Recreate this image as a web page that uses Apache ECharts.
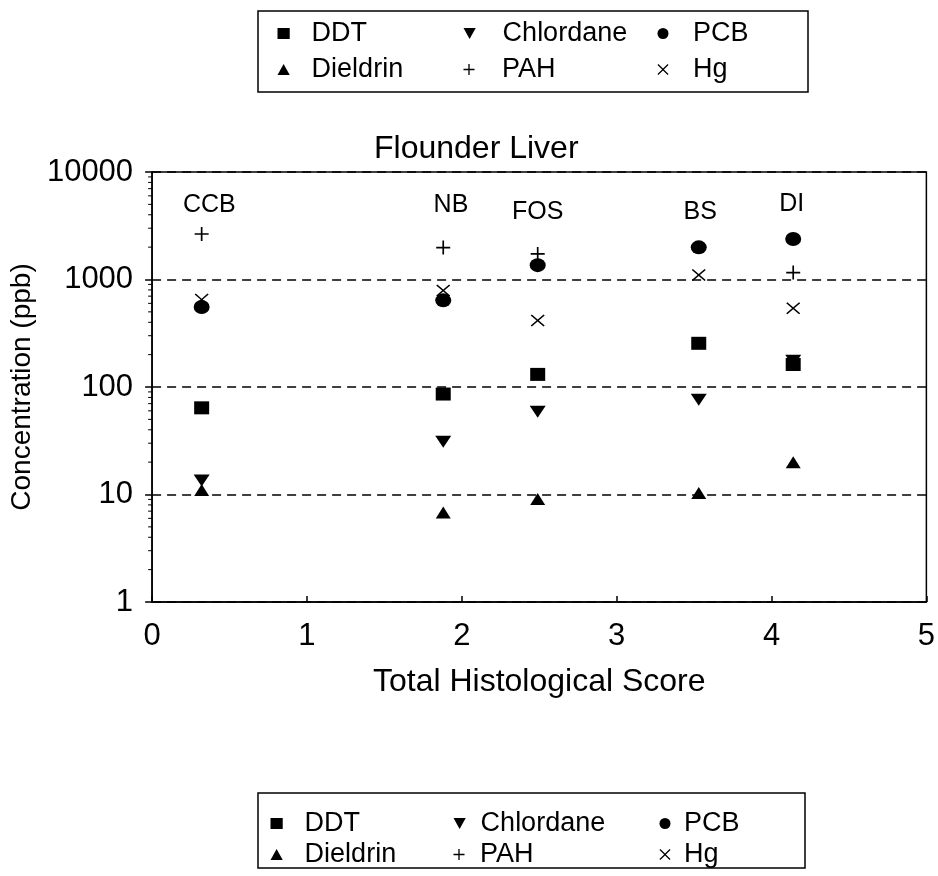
<!DOCTYPE html>
<html>
<head>
<meta charset="utf-8">
<script src="https://cdn.jsdelivr.net/npm/echarts@6/dist/echarts.min.js"></script>
<style>
  html, body { margin: 0; padding: 0; background: #fff; }
  #chart { width: 938px; height: 876px; }
</style>
</head>
<body>
<div id="chart"></div>
<script>
// Contaminant concentrations in flounder liver (ppb) against total histological score
const sites = ['CCB', 'NB', 'FOS', 'BS', 'DI'];
const siteScore = [0.32, 1.88, 2.49, 3.53, 4.14];

const ddt       = [64, 86, 131, 255, 162];
const dieldrin  = [11, 6.8, 9.1, 10.3, 20];
const chlordane = [13.5, 31, 59, 76, 175];
const pah       = [2650, 1980, 1730, null, 1160];
const pcb       = [555, 640, 1360, 1990, 2380];
const hg        = [650, 790, 415, 1100, 540];

// site name tags above each group of points
const labelScore = [0.37, 1.93, 2.49, 3.54, 4.13];
const labelLevel = [4900, 4900, 4250, 4250, 5050];

const xTicks = [0, 1, 2, 3, 4, 5];

// minor tick marks at 2..9 within every decade of the log axis
const minorTickValues = [];
for (let d = 1; d < 10000; d *= 10) {
  for (let m = 2; m <= 9; m++) minorTickValues.push(m * d);
}

const FONT = 'Liberation Sans, Arial, Helvetica, sans-serif';

const SYM = {
  DDT: { symbol: 'path://M0,0H10V9H0Z', size: [15, 13] },
  Dieldrin: { symbol: 'path://M5,0L10,9L0,9Z', size: [15, 12] },
  Chlordane: { symbol: 'path://M0,0L10,0L5,9Z', size: [16, 12] },
  PAH: { symbol: 'path://M4.4,0H5.6V4.4H10V5.6H5.6V10H4.4V5.6H0V4.4H4.4Z', size: [14, 14] },
  PCB: { symbol: 'circle', size: [16, 14] },
  Hg: { symbol: 'path://M0,0.8L0.8,0L5,4.2L9.2,0L10,0.8L5.8,5L10,9.2L9.2,10L5,5.8L0.8,10L0,9.2L4.2,5Z', size: [14, 12] }
};

function pairs(vals) {
  const out = [];
  vals.forEach((v, i) => { if (v != null) out.push([siteScore[i], v]); });
  return out;
}

function scatter(name, vals) {
  return {
    name: name,
    type: 'scatter',
    data: pairs(vals),
    symbol: SYM[name].symbol,
    symbolSize: SYM[name].size,
    itemStyle: { color: '#000', opacity: 1 },
    emphasis: { disabled: true },
    z: 5
  };
}

// legend blocks: two rows of three entries, repeated above and below the plot
const legendRows = [
  ['DDT', 'Chlordane', 'PCB'],
  ['Dieldrin', 'PAH', 'Hg']
];
function legendBlock(iconX, textX, rowY) {
  const out = [];
  const h = 11;
  legendRows.forEach((row, r) => {
    row.forEach((name, c) => {
      const w = 2 * (textX[c] - 5 - iconX[c]);
      out.push({
        data: [name],
        left: iconX[c] - h / 2,
        top: rowY[r] - 12,
        itemWidth: w,
        itemHeight: h,
        padding: 0,
        selectedMode: false,
        textStyle: { fontSize: 27, color: '#000', fontFamily: FONT },
        itemStyle: { color: '#000' }
      });
    });
  });
  return out;
}
const legends = legendBlock([283, 469, 663], [311, 502, 693], [32, 68])
  .concat(legendBlock([276, 459, 665], [304, 480, 684], [822, 853]));

const chart = echarts.init(document.getElementById('chart'), null, { renderer: 'canvas' });

chart.setOption({
  backgroundColor: '#fff',
  animation: false,
  title: {
    text: 'Flounder Liver',
    left: 374, top: 133, padding: 0,
    textStyle: { fontSize: 32, fontWeight: 'normal', color: '#000', fontFamily: FONT }
  },
  legend: legends,
  graphic: [
    { type: 'rect', shape: { x: 258, y: 11, width: 550, height: 81 },
      style: { fill: 'none', stroke: '#000', lineWidth: 1.5 }, z: -1 },
    { type: 'rect', shape: { x: 258, y: 793, width: 547, height: 75 },
      style: { fill: 'none', stroke: '#000', lineWidth: 1.5 }, z: -1 }
  ],
  grid: {
    left: 151, right: 8, top: 172, height: 430,
    show: true, borderColor: '#000', borderWidth: 1.5, containLabel: false
  },
  xAxis: {
    type: 'value', min: 0, max: 5, interval: 1,
    name: 'Total Histological Score', nameLocation: 'middle', nameGap: 64,
    nameTextStyle: { fontSize: 32, color: '#000', fontFamily: FONT },
    axisLine: { lineStyle: { color: '#000', width: 1.5 } },
    axisTick: { inside: true, length: 6, lineStyle: { color: '#000', width: 1.5 } },
    axisLabel: { fontSize: 31, color: '#000', margin: 19, fontFamily: FONT,
      customValues: xTicks },
    splitLine: { show: false }
  },
  yAxis: {
    type: 'log', logBase: 10, min: 1, max: 10000,
    name: 'Concentration (ppb)', nameLocation: 'middle', nameGap: 97, nameRotate: 90,
    nameTextStyle: { fontSize: 28, color: '#000', fontFamily: FONT },
    axisLine: { lineStyle: { color: '#000', width: 1.5 } },
    axisTick: { inside: false, length: 7, lineStyle: { color: '#000', width: 1.5 } },
    axisLabel: { fontSize: 31, color: '#000', margin: 19, fontFamily: FONT,
      formatter: v => String(Math.round(v)) },
    splitLine: { show: true, lineStyle: { color: '#000', width: 1.5, type: [9, 6] } }
  },
  series: [
    scatter('DDT', ddt),
    scatter('Dieldrin', dieldrin),
    scatter('Chlordane', chlordane),
    scatter('PAH', pah),
    scatter('PCB', pcb),
    scatter('Hg', hg),
    {
      name: 'sites',
      type: 'scatter',
      data: sites.map((s, i) => ({ name: s, value: [labelScore[i], labelLevel[i]] })),
      symbolSize: 0,
      silent: true,
      itemStyle: { color: '#000', opacity: 1 },
      label: {
        show: true, position: 'inside', formatter: p => p.name,
        fontSize: 25, color: '#000', opacity: 1, fontFamily: FONT
      },
      z: 6
    },
    {
      name: 'minorTicks',
      type: 'custom',
      silent: true,
      clip: false,
      data: minorTickValues.map(v => [0, v]),
      renderItem: (params, api) => {
        const p = api.coord([api.value(0), api.value(1)]);
        return {
          type: 'line',
          shape: { x1: p[0] - 4, y1: p[1], x2: p[0], y2: p[1] },
          style: { stroke: '#000', lineWidth: 1 }
        };
      },
      z: 4
    }
  ]
});
</script>
</body>
</html>
